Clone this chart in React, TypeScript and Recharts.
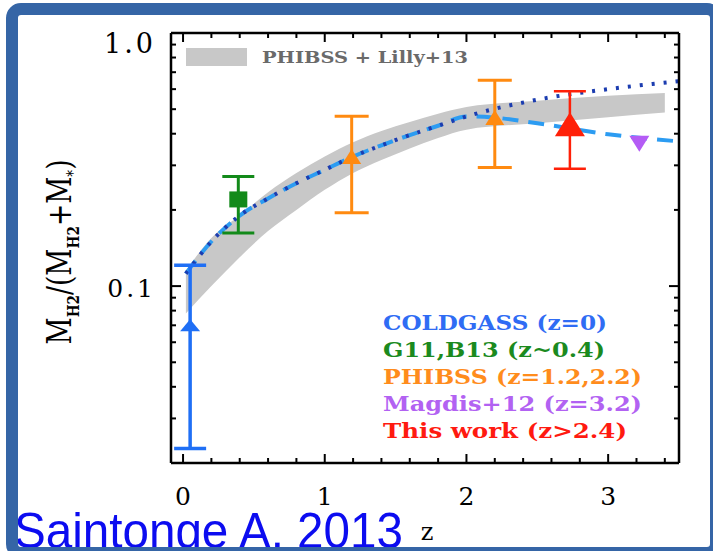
import React from "react";
import { ComposedChart, Area, Line, Scatter, ErrorBar, XAxis, YAxis } from "recharts";

const W = 713;
const H = 551;

// PHIBSS + Lilly+13 band (lower / upper edge)
const bandZ = [0.02, 0.2, 0.4, 0.6, 0.8, 1.0, 1.2, 1.4, 1.6, 1.8, 2.0, 2.5, 3.0, 3.4];
const bandLow = [0.078, 0.1, 0.13, 0.165, 0.2, 0.24, 0.28, 0.315, 0.35, 0.385, 0.415, 0.44, 0.465, 0.485];
const bandHigh = [0.115, 0.155, 0.19, 0.235, 0.28, 0.325, 0.37, 0.41, 0.445, 0.48, 0.51, 0.54, 0.565, 0.58];

// model curves: shared up to z=2, then split
const curveZ = [0.02, 0.2, 0.4, 0.6, 0.8, 1.0, 1.2, 1.4, 1.6, 1.8, 2.0];
const curveF = [0.112, 0.15, 0.19, 0.222, 0.255, 0.288, 0.325, 0.36, 0.395, 0.43, 0.468];
const dottedTailZ = [2.5, 3.0, 3.5];
const dottedTailF = [0.545, 0.6, 0.645];
const dashedTailZ = [2.2, 2.5, 3.0, 3.5];
const dashedTailF = [0.463, 0.44, 0.398, 0.373];

// data points with error bars
const coldgassZ = [0.05];
const coldgassF = [0.07];
const coldgassLo = [0.0228];
const coldgassHi = [0.121];

const g11Z = [0.39];
const g11F = [0.22];
const g11Lo = [0.162];
const g11Hi = [0.271];

const phibssZ = [1.19, 2.2];
const phibssF = [0.325, 0.464];
const phibssLo = [0.195, 0.294];
const phibssHi = [0.469, 0.65];

const thisWorkZ = [2.73];
const thisWorkF = [0.436];
const thisWorkLo = [0.291];
const thisWorkHi = [0.588];

const magdisZ = [3.22];
const magdisF = [0.365];

// ticks
const xTicks = [0, 0.2, 0.4, 0.6, 0.8, 1, 1.2, 1.4, 1.6, 1.8, 2, 2.2, 2.4, 2.6, 2.8, 3, 3.2, 3.4];
const yTicks = [0.03, 0.04, 0.05, 0.06, 0.07, 0.08, 0.09, 0.1, 0.2, 0.3, 0.4, 0.5, 0.6, 0.7, 0.8, 0.9, 1];
const yLabels: Record<string, string> = { "0.1": "0.1", "1": "1.0" };

const legendLines = [
  { text: "COLDGASS (z=0)", color: "#2f6cf4", len: 224 },
  { text: "G11,B13 (z~0.4)", color: "#1b8a1e", len: 222 },
  { text: "PHIBSS (z=1.2,2.2)", color: "#ff8c1c", len: 259 },
  { text: "Magdis+12 (z=3.2)", color: "#b262f2", len: 259 },
  { text: "This work (z>2.4)", color: "#ff1a10", len: 244 },
];

const bandData = bandZ.map((z, i) => ({ z, range: [bandLow[i], bandHigh[i]] }));
const dottedData = [...curveZ, ...dottedTailZ].map((z, i) => ({ z, f: [...curveF, ...dottedTailF][i] }));
const dashedData = [...curveZ, ...dashedTailZ].map((z, i) => ({ z, f: [...curveF, ...dashedTailF][i] }));

const withErr = (z: number[], f: number[], lo: number[], hi: number[]) =>
  z.map((zz, i) => ({ z: zz, f: f[i], err: [f[i] - lo[i], hi[i] - f[i]] }));

const coldgass = withErr(coldgassZ, coldgassF, coldgassLo, coldgassHi);
const g11 = withErr(g11Z, g11F, g11Lo, g11Hi);
const phibss = withErr(phibssZ, phibssF, phibssLo, phibssHi);
const thisWork = withErr(thisWorkZ, thisWorkF, thisWorkLo, thisWorkHi);
const magdis = magdisZ.map((z, i) => ({ z, f: magdisF[i] }));

const triUp = (w: number, h: number, color: string) => (p: any) => (
  <polygon
    points={`${p.cx - w / 2},${p.cy + h / 2} ${p.cx + w / 2},${p.cy + h / 2} ${p.cx},${p.cy - h / 2}`}
    fill={color}
  />
);
const triDown = (w: number, h: number, color: string) => (p: any) => (
  <polygon
    points={`${p.cx - w / 2},${p.cy - h / 2} ${p.cx + w / 2},${p.cy - h / 2} ${p.cx},${p.cy + h / 2}`}
    fill={color}
  />
);
const square = (w: number, h: number, color: string) => (p: any) => (
  <rect x={p.cx - w / 2} y={p.cy - h / 2} width={w} height={h} fill={color} />
);

const tickFont = { fontFamily: "DejaVu Serif", fill: "#000" };

const BottomTick = (p: any) => {
  const v = p.payload.value;
  const major = Number.isInteger(v);
  return (
    <g>
      <line x1={p.x} x2={p.x} y1={p.y} y2={p.y - (major ? 9 : 5)} stroke="#000" strokeWidth={2} />
      {major && (
        <text x={p.x} y={p.y + 42} textAnchor="middle" fontSize={25} {...tickFont}>
          {v}
        </text>
      )}
    </g>
  );
};

const TopTick = (p: any) => {
  const major = Number.isInteger(p.payload.value);
  return <line x1={p.x} x2={p.x} y1={p.y} y2={p.y + (major ? 9 : 5)} stroke="#000" strokeWidth={2} />;
};

const LeftTick = (p: any) => {
  const v = p.payload.value;
  const label = yLabels[String(v)];
  return (
    <g>
      <line x1={p.x} x2={p.x + (label ? 10 : 5)} y1={p.y} y2={p.y} stroke="#000" strokeWidth={2} />
      {label && (
        <text x={p.x - 15} y={p.y + (v === 1 ? 20 : 11)} textAnchor="end" fontSize={v === 1 ? 27 : 25} letterSpacing={3} {...tickFont}>
          {label}
        </text>
      )}
    </g>
  );
};

const RightTick = (p: any) => {
  const label = yLabels[String(p.payload.value)];
  return <line x1={p.x} x2={p.x - (label ? 10 : 5)} y1={p.y} y2={p.y} stroke="#000" strokeWidth={2} />;
};

const axisLine = { stroke: "#000", strokeWidth: 2.5 };

export default function App() {
  return (
    <div style={{ position: "fixed", left: 0, top: 0, width: W, height: H, overflow: "hidden", background: "#fff" }}>
      <ComposedChart width={W} height={H} margin={{ top: 23, right: 24, bottom: 48, left: 111 }}>
        <XAxis
          xAxisId="b"
          dataKey="z"
          type="number"
          domain={[-0.085, 3.5]}
          allowDataOverflow
          ticks={xTicks}
          interval={0}
          tickSize={0}
          tickMargin={0}
          tickLine={false}
          axisLine={axisLine}
          tick={BottomTick}
          height={40}
        />
        <XAxis
          xAxisId="t"
          orientation="top"
          dataKey="z"
          type="number"
          domain={[-0.085, 3.5]}
          allowDataOverflow
          ticks={xTicks}
          interval={0}
          tickSize={0}
          tickMargin={0}
          tickLine={false}
          axisLine={axisLine}
          tick={TopTick}
          height={10}
        />
        <YAxis
          yAxisId="l"
          type="number"
          scale="log"
          domain={[0.02, 1]}
          allowDataOverflow
          ticks={yTicks}
          interval={0}
          tickSize={0}
          tickMargin={0}
          tickLine={false}
          axisLine={axisLine}
          tick={LeftTick}
          width={60}
        />
        <YAxis
          yAxisId="r"
          orientation="right"
          type="number"
          scale="log"
          domain={[0.02, 1]}
          allowDataOverflow
          ticks={yTicks}
          interval={0}
          tickSize={0}
          tickMargin={0}
          tickLine={false}
          axisLine={axisLine}
          tick={RightTick}
          width={10}
        />

        <Area
          xAxisId="b"
          yAxisId="l"
          data={bandData}
          dataKey="range"
          type="monotone"
          stroke="none"
          fill="#c8c8c8"
          fillOpacity={1}
          isAnimationActive={false}
        />
        <Line
          xAxisId="b"
          yAxisId="l"
          data={dashedData}
          dataKey="f"
          type="monotone"
          stroke="#2c9cf2"
          strokeWidth={4}
          strokeDasharray="16 10"
          dot={false}
          isAnimationActive={false}
        />
        <Line
          xAxisId="b"
          yAxisId="l"
          data={dottedData}
          dataKey="f"
          type="monotone"
          stroke="#1c3db0"
          strokeWidth={4}
          strokeDasharray="3 9"
          dot={false}
          isAnimationActive={false}
        />

        <Scatter xAxisId="b" yAxisId="l" data={coldgass} dataKey="f" shape={triUp(20, 12, "#1f6ff5")} isAnimationActive={false}>
          <ErrorBar dataKey="err" direction="y" width={16} strokeWidth={3.5} stroke="#1f6ff5" />
        </Scatter>
        <Scatter xAxisId="b" yAxisId="l" data={g11} dataKey="f" shape={square(18, 16, "#138a1a")} isAnimationActive={false}>
          <ErrorBar dataKey="err" direction="y" width={16} strokeWidth={3} stroke="#138a1a" />
        </Scatter>
        <Scatter xAxisId="b" yAxisId="l" data={phibss} dataKey="f" shape={triUp(19, 15, "#ff8a10")} isAnimationActive={false}>
          <ErrorBar dataKey="err" direction="y" width={17} strokeWidth={3} stroke="#ff8a10" />
        </Scatter>
        <Scatter xAxisId="b" yAxisId="l" data={thisWork} dataKey="f" shape={triUp(30, 24, "#ff2008")} isAnimationActive={false}>
          <ErrorBar dataKey="err" direction="y" width={16} strokeWidth={2.5} stroke="#ff2008" />
        </Scatter>
        <Scatter xAxisId="b" yAxisId="l" data={magdis} dataKey="f" shape={triDown(20, 16, "#b45cf5")} isAnimationActive={false} />
      </ComposedChart>

      <svg width={W} height={H} style={{ position: "absolute", left: 0, top: 0, pointerEvents: "none" }}>
        {/* band legend */}
        <rect x={186} y={48} width={61} height={18} fill="#c8c8c8" />
        <text
          x={262}
          y={63}
          fontFamily="DejaVu Serif"
          fontWeight="bold"
          fontSize={17}
          fill="#6a6a6a"
          textLength={206}
          lengthAdjust="spacingAndGlyphs"
        >
          PHIBSS + Lilly+13
        </text>

        {/* data legend */}
        {legendLines.map((l, i) => (
          <text
            key={l.text}
            x={383}
            y={330 + i * 27}
            fontFamily="DejaVu Serif"
            fontWeight="bold"
            fontSize={20}
            fill={l.color}
            textLength={l.len}
            lengthAdjust="spacingAndGlyphs"
          >
            {l.text}
          </text>
        ))}

        {/* axis titles */}
        <text
          transform="translate(71,252) rotate(-90)"
          textAnchor="middle"
          fontFamily="DejaVu Serif"
          fontSize={33}
          fill="#000"
          textLength={185}
          lengthAdjust="spacingAndGlyphs"
        >
          M<tspan fontSize={17} fontWeight="bold" dy={8}>H2</tspan>
          <tspan dy={-8}>/(M</tspan>
          <tspan fontSize={17} fontWeight="bold" dy={8}>H2</tspan>
          <tspan dy={-8}>+M</tspan>
          <tspan fontSize={17} dy={8}>*</tspan>
          <tspan dy={-8}>)</tspan>
        </text>
        <text x={427} y={540} textAnchor="middle" fontFamily="DejaVu Serif" fontSize={24} fill="#000">
          z
        </text>

        <text
          x={14}
          y={548}
          fontFamily="Liberation Sans"
          fontSize={50}
          fill="#0c0cf0"
          textLength={389}
          lengthAdjust="spacingAndGlyphs"
        >
          Saintonge A. 2013
        </text>

        {/* slide frame */}
        <rect x={12} y={9} width={704} height={544} rx={9} fill="none" stroke="#3565a6" strokeWidth={12} />
      </svg>
    </div>
  );
}
